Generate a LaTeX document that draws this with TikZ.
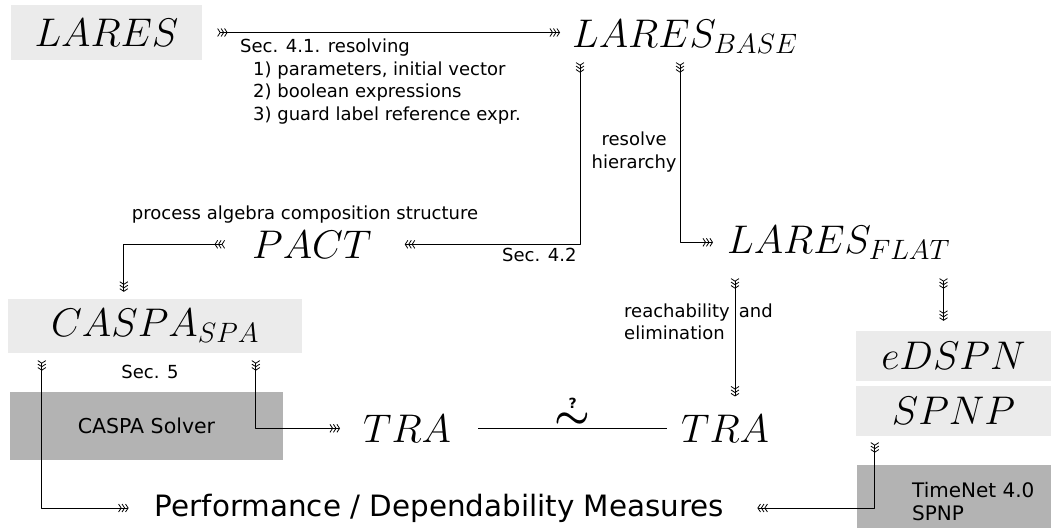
\RequirePackage{fix-cm}
\documentclass[tikz,border=0pt]{standalone}
\usepackage{amsmath}
\usepackage{fontspec}
\setmainfont{DejaVu Sans}
\usetikzlibrary{arrows.meta,calc}
\definecolor{boxlight}{HTML}{EBEBEB}
\definecolor{boxdark}{HTML}{B3B3B3}
\tikzset{chev/.tip={Straight Barb[length=2.6pt,width=8pt,sep=0pt]}}
\begin{document}
\begin{tikzpicture}[x=1pt,y=-1pt,line join=round,
    flow/.style={line width=0.8pt,{chev[reversed]chev[reversed]chev[reversed]}-{chev[]chev[]chev[]}},
    model/.style={font=\fontsize{40}{48}\selectfont,inner sep=0pt},
    light/.style={model,fill=boxlight},
    tool/.style={fill=boxdark,font=\fontsize{20.5}{24}\selectfont},
    note/.style={font=\fontsize{18}{22.5}\selectfont,inner sep=3pt}]
\useasboundingbox (0,0) rectangle (1051,528);
% models
\node[light,minimum width=191pt,minimum height=55pt] (lares) at (106.5,32.5) {$LARES$};
\node[model,anchor=base west] (base) at (572,47) {$LARES_{BASE}$};
\node[model,anchor=base west] (pact) at (252,258) {$PACT$};
\node[model,anchor=base west] (flat) at (727,253) {$LARES_{FLAT}$};
\node[light,minimum width=294pt,minimum height=54pt] (caspa) at (155,326) {$CASPA_{SPA}$};
\node[light,minimum width=195pt,minimum height=50pt] (edspn) at (953.5,356) {$eDSPN$};
\node[light,minimum width=195pt,minimum height=50pt] (spnp) at (953.5,411) {$SPNP$};
\node[model,anchor=base west] (traL) at (363,442) {$TRA$};
\node[model,anchor=base west] (traR) at (681,442) {$TRA$};
% tools
\node[tool,minimum width=273pt,minimum height=68pt] (solver) at (146.5,426) {CASPA Solver};
\node[tool,minimum width=194pt,minimum height=63pt] (tnet) at (954,496.5) {};
\node[font=\fontsize{20}{23}\selectfont,align=left,anchor=west,inner sep=0pt] (tntext) at (912,501.5) {TimeNet 4.0\\SPNP};
\node[font=\fontsize{29.4}{34}\selectfont,inner sep=0pt] (perf) at (439.5,508) {Performance / Dependability Measures};
% notes
\node[note,align=left,anchor=north west,inner sep=0pt] (resolving) at (240,39)
  {Sec. 4.1. resolving\\\hspace*{13pt}1) parameters, initial vector\\\hspace*{13pt}2) boolean expressions\\\hspace*{13pt}3) guard label reference expr.};
\node[note] (proc) at (305,215) {process algebra composition structure};
\node[note] (sec5) at (150,372) {Sec. 5};
\node[note,align=left,anchor=west,inner sep=0pt] (reach) at (624,322) {reachability\hspace*{9pt}and\\elimination};
% connectors
\draw[flow] ([xshift=15pt]lares.east) -- ($(lares.east -| base.west)+(-12,0)$);
\draw[flow] ($(base.south west)+(8,9)$) |- node[note,pos=0.5,below left]{Sec. 4.2} ($(pact.east)+(33,0)$);
\draw[flow] ($(base.south west)+(108,9)$) |- node[note,pos=0.25,left,align=center]{resolve\\hierarchy} ($(flat.west)+(-14,0)$);
\draw[flow] ($(flat.south west)+(8,19)$) -- ($(flat.south west |- traR.north)+(8,-18)$);
\draw[flow] ($(flat.south -| edspn.north)+(-10,19)$) -- ($(edspn.north)+(-10,-10)$);
\draw[flow] ($(pact.west)+(-27,0)$) -| ($(caspa.north west)+(116,-7)$);
\draw[flow] ($(caspa.south west)+(34,7)$) |- ($(perf.west)+(-26,0)$);
\draw[flow] ($(caspa.south west)+(248,7)$) |- ($(traL.west)+(-23,0)$);
\draw[flow] ($(spnp.south west)+(19,6)$) |- ($(perf.east)+(33,0)$);
\draw[line width=0.8pt] ($(traL.east)+(27,0)$) -- node[above=-1pt,model]{$\overset{\raisebox{0pt}{\fontsize{14}{14}\selectfont\bfseries ?}}{\boldsymbol{\sim}}$} ($(traR.west)+(-14,0)$);
\end{tikzpicture}
\end{document}
